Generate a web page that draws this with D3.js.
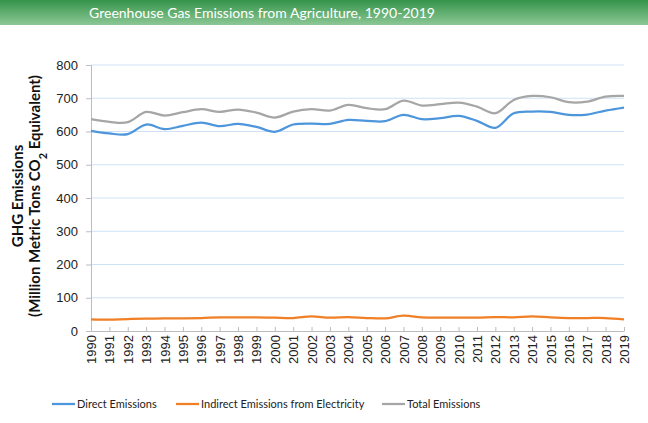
<!DOCTYPE html>
<html lang="en">
<head>
  <meta charset="UTF-8">
  <title>Greenhouse Gas Emissions from Agriculture, 1990-2019</title>
  <script src="https://d3js.org/d3.v7.min.js"></script>
  <style>
    body { margin: 0; background: #fff; }
    svg { display: block; }
    .tick text { font-family: "Liberation Sans", Arial, sans-serif; font-size: 13px; fill: #222; }
    .legend text { font-family: Lato, sans-serif; font-size: 11px; fill: #222; }
  </style>
</head>
<body>
  <svg width="648" height="423"></svg>
  <script>
    const years = d3.range(1990, 2020);
    const direct = [602, 594, 592, 621, 607, 617, 627, 616, 623, 614,
                    599, 621, 624, 623, 635, 632, 631, 650, 637, 640,
                    647, 632, 611, 655, 660, 659, 650, 651, 663, 672];
    const indirect = [35, 34, 36, 37, 38, 38, 39, 41, 41, 41,
                      40, 39, 44, 40, 42, 39, 38, 46, 41, 40,
                      40, 40, 42, 41, 44, 41, 39, 39, 39, 35];
    const total = [637, 629, 628, 659, 648, 658, 667, 659, 666, 657,
                   642, 660, 667, 663, 680, 670, 667, 693, 678, 682,
                   687, 675, 655, 695, 707, 703, 688, 690, 705, 707];
    const yTicks = [0, 100, 200, 300, 400, 500, 600, 700, 800];

    const series = [
      { name: "Direct Emissions", values: direct, color: "#4e96db" },
      { name: "Indirect Emissions from Electricity", values: indirect, color: "#f07f25" },
      { name: "Total Emissions", values: total, color: "#a6a6a6" }
    ];

    const svg = d3.select("svg");
    const margin = { top: 65, right: 24, bottom: 92, left: 91 };
    const width = 648 - margin.left - margin.right,
          height = 423 - margin.top - margin.bottom;

    // title bar
    const grad = svg.append("defs").append("linearGradient")
      .attr("id", "bar").attr("x1", 0).attr("y1", 0).attr("x2", 0).attr("y2", 1);
    grad.append("stop").attr("offset", "0%").attr("stop-color", "#35944a");
    grad.append("stop").attr("offset", "100%").attr("stop-color", "#8cc795");
    svg.append("rect").attr("x", 0).attr("y", 0).attr("width", 648).attr("height", 25)
      .attr("fill", "url(#bar)");
    svg.append("text")
      .attr("x", 262).attr("y", 18)
      .attr("text-anchor", "middle")
      .style("font-family", "Lato, sans-serif")
      .style("font-size", "14px")
      .style("fill", "#fff")
      .text("Greenhouse Gas Emissions from Agriculture, 1990-2019");

    const g = svg.append("g").attr("transform", `translate(${margin.left},${margin.top})`);

    const x = d3.scaleLinear().domain([1990, 2019]).range([0, width]);
    const y = d3.scaleLinear().domain([0, 800]).range([height, 0]);

    // gridlines
    g.append("g").selectAll("line")
      .data(yTicks.filter(d => d > 0))
      .join("line")
      .attr("x1", 0).attr("x2", width)
      .attr("y1", d => y(d)).attr("y2", d => y(d))
      .attr("stroke", "#cfe1f7").attr("stroke-width", 1);

    // y axis
    const yAxis = g.append("g")
      .call(d3.axisLeft(y).tickValues(yTicks).tickSize(5).tickPadding(8));
    yAxis.selectAll("path, line").attr("stroke", "#bcbcbc");

    // x axis
    const xAxis = g.append("g")
      .attr("transform", `translate(0,${height})`)
      .call(d3.axisBottom(x).tickValues(years).tickFormat(d3.format("d")).tickSizeInner(-4).tickSizeOuter(0));
    xAxis.selectAll("path, line").attr("stroke", "#bcbcbc");
    xAxis.selectAll("text")
      .attr("transform", "rotate(-90)")
      .attr("text-anchor", "end")
      .attr("x", -4).attr("y", 0).attr("dy", "0.35em");

    // lines
    const line = d3.line()
      .x((d, i) => x(years[i]))
      .y(d => y(d))
      .curve(d3.curveCatmullRom.alpha(0.5));

    g.selectAll(".series")
      .data(series)
      .join("path")
      .attr("class", "series")
      .attr("fill", "none")
      .attr("stroke", d => d.color)
      .attr("stroke-width", 2.25)
      .attr("d", d => line(d.values));

    // y axis title
    const yt = svg.append("text")
      .attr("transform", "translate(0,196) rotate(-90)")
      .attr("text-anchor", "middle")
      .style("font-family", "Lato, sans-serif")
      .style("font-size", "15px")
      .style("font-weight", "bold")
      .style("fill", "#111");
    yt.append("tspan").attr("x", 0).attr("y", 23).text("GHG Emissions");
    const l2 = yt.append("tspan").attr("x", 0).attr("y", 40);
    l2.append("tspan").text("(Million Metric Tons CO");
    l2.append("tspan").attr("baseline-shift", "sub").style("font-size", "11px").text("2");
    l2.append("tspan").text(" Equivalent)");

    // legend
    const legendX = [52, 176, 382];
    const legend = svg.append("g").attr("class", "legend");
    const items = legend.selectAll("g")
      .data(series)
      .join("g")
      .attr("transform", (d, i) => `translate(${legendX[i]},404)`);
    items.append("line")
      .attr("x1", 0).attr("x2", 23).attr("y1", 0).attr("y2", 0)
      .attr("stroke", d => d.color).attr("stroke-width", 2.25);
    items.append("text")
      .attr("x", 25).attr("y", 0).attr("dy", "0.35em")
      .text(d => d.name);
  </script>
</body>
</html>
